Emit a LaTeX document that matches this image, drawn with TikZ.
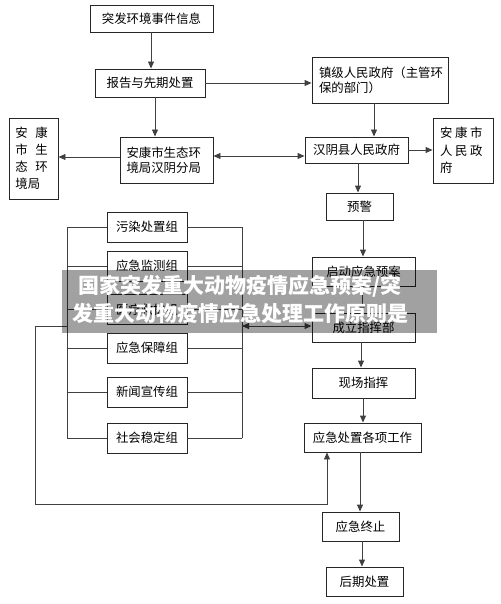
\documentclass[tikz,border=0pt]{standalone}
\usepackage{fontspec}
\setmainfont{Noto Sans CJK SC}
\usetikzlibrary{arrows.meta,calc}
\begin{document}
\begin{tikzpicture}[x=1pt,y=-1pt,
  every node/.style={font=\fontsize{12.4}{15}\selectfont, inner sep=0pt},
  box/.style={draw=black!85, line width=0.9pt, rectangle, fill=white},
  con/.style={draw=black!75, line width=0.9pt},
  arr/.style={con, -{Triangle[length=7pt,width=6pt]}},
  darr/.style={con, {Triangle[length=7pt,width=6pt]}-{Triangle[length=7pt,width=6pt]}},
  grp/.style={box, minimum width=80pt, minimum height=30pt},
  banner/.style={font=\fontsize{21}{21}\selectfont\bfseries, text=white}
]
\useasboundingbox (0,0) rectangle (500,604);
% top chain
\node[box, minimum width=123pt, minimum height=27pt] (info) at (151.5,18.5) {突发环境事件信息};
\node[box, minimum width=110pt, minimum height=28pt] (report) at (150,83) {报告与先期处置};
\node[box, minimum width=136pt, minimum height=46pt, align=left, text width=122pt] (town) at (380,80) {镇级人民政府（主管环\\保的部门）};
\node[box, minimum width=93pt, minimum height=46pt, align=left, text width=80pt] (branch) at (166.5,160) {安康市生态环\\境局汉阴分局};
\node[box, minimum width=49pt, minimum height=81pt, align=left, text width=36pt, font=\fontsize{12.4}{17}\selectfont] (akenv) at (33.5,158.5) {安\hspace{7.6pt}康\\市\hspace{7.6pt}生\\态\hspace{7.6pt}环\\境局};
\node[box, minimum width=103pt, minimum height=26pt] (county) at (356.5,150) {汉阴县人民政府};
\node[box, minimum width=60pt, minimum height=65pt, align=left, text width=46pt, font=\fontsize{12.4}{17.5}\selectfont] (akgov) at (463,150.5) {安\hspace{2.6pt}康\hspace{2.6pt}市\\人\hspace{2.6pt}民\hspace{2.6pt}政\\府};
% right column
\node[box, minimum width=67pt, minimum height=27pt] (warn) at (359.5,206.5) {预警};
\node[box, minimum width=103pt, minimum height=29pt] (start) at (363.5,271.5) {启动应急预案};
\node[box, minimum width=103pt, minimum height=29pt] (command) at (363.5,327.5) {成立指挥部};
\node[box, minimum width=103pt, minimum height=30pt] (field) at (363.5,383) {现场指挥};
\node[box, minimum width=117pt, minimum height=29pt] (work) at (362.5,437.5) {应急处置各项工作};
\node[box, minimum width=77pt, minimum height=29pt] (stop) at (360.5,526.5) {应急终止};
\node[box, minimum width=77pt, minimum height=29pt] (after) at (364.5,581.5) {后期处置};
% groups
\node[grp] (g1) at (147,227) {污染处置组};
\node[grp] (g2) at (147,266) {应急监测组};
\node[grp] (g3) at (147,309.5) {医疗救护组};
\node[grp] (g4) at (147,348) {应急保障组};
\node[grp] (g5) at (147,392) {新闻宣传组};
\node[grp] (g6) at (147,438) {社会稳定组};
% bracket coordinates
\coordinate (Ltop) at (67,227);
\coordinate (Lbot) at (67,438);
\coordinate (Rtop) at (242,227);
\coordinate (Rbot) at (242,438);
\coordinate (Lmid) at (67,326);
\coordinate (Rmid) at (242,326);
\coordinate (loopA) at (35,326);
\coordinate (loopB) at (35,504);
\draw[con] (Ltop) -- (Lbot);
\draw[con] (Rtop) -- (Rbot);
\foreach \g in {g1,g2,g3,g4,g5,g6}{
  \draw[con] (\g.west) -- (\g.west -| Ltop);
  \draw[con] (\g.east) -- (\g.east -| Rtop);
}
% connectors
\draw[arr] (info.south -| 151,0) -- (report.north -| 151,0);
\draw[arr] (report.east |- 0,83) -- (town.west |- 0,83);
\draw[arr] (report.south -| 155,0) -- (branch.north -| 155,0);
\draw[arr] (branch.west |- 0,157) -- (akenv.east |- 0,157);
\draw[darr] (branch.east |- 0,156) -- (county.west |- 0,156);
\draw[arr] (town.south -| 374,0) -- (county.north -| 374,0);
\draw[arr] (county.east |- 0,150) -- (akgov.west |- 0,150);
\draw[arr] (county.south -| 358,0) -- (warn.north -| 358,0);
\draw[arr] (warn.south -| 363,0) -- (start.north -| 363,0);
\draw[arr] (start.south -| 362,0) -- (command.north -| 362,0);
\draw[arr] (command.south -| 361,0) -- (field.north -| 361,0);
\draw[arr] (field.south -| 363,0) -- (work.north -| 363,0);
\draw[arr] (work.south -| 360,0) -- (stop.north -| 360,0);
\draw[arr] (stop.south -| 362,0) -- (after.north -| 362,0);
\draw[darr] (Rmid) -- (command.west |- Rmid);
\draw[arr] (Lmid) -- (loopA) -- (loopB) -- (loopB -| 327,0) -- (work.south -| 327,0);
% banner overlay
\fill[black, opacity=0.37] (62,270) rectangle (437,333);
\node[banner] (bl1) at (240,286) {国家突发重大动物疫情应急预案/突};
\node[banner] (bl2) at (240,313) {发重大动物疫情应急处理工作原则是};
\end{tikzpicture}
\end{document}
